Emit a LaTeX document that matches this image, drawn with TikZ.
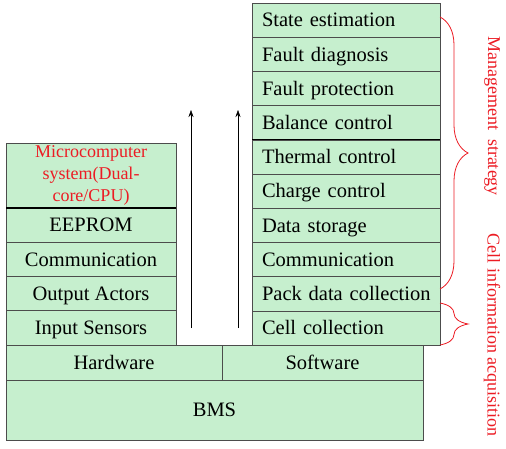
\documentclass[tikz,border=0pt]{standalone}
\usepackage{fontspec}
\setmainfont{Liberation Serif}
\usetikzlibrary{positioning,decorations.pathreplacing,arrows.meta}
\definecolor{bmsgreen}{RGB}{198,239,206}
\definecolor{bmsred}{RGB}{236,28,36}

\begin{document}
\begin{tikzpicture}[x=1pt,y=1pt,
 box/.style={draw=black!70, fill=bmsgreen, inner sep=0pt, outer sep=0pt,
   minimum height=34.2pt, font=\fontsize{20.5}{24}\selectfont},
 row/.style={box, text height=14.5pt, text depth=1pt},
 soft/.style={row, minimum width=188pt, text width=168pt, align=left},
 hard/.style={row, minimum width=170pt, align=center},
 brace/.style={draw=bmsred, thick, decorate, decoration={brace, amplitude=28pt}},
 side/.style={text=bmsred, rotate=-90, font=\fontsize{18}{20}\selectfont}]
 \useasboundingbox (0,0) rectangle (506,448);
 % software column
 \node [soft, anchor=north west] (state) at (252,445) {State estimation};
 \node [soft, below=0pt of state] (diag) {Fault diagnosis};
 \node [soft, below=0pt of diag] (prot) {Fault protection};
 \node [soft, below=0pt of prot] (bal) {Balance control};
 \node [soft, below=0pt of bal] (therm) {Thermal control};
 \node [soft, below=0pt of therm] (charge) {Charge control};
 \node [soft, below=0pt of charge] (store) {Data storage};
 \node [soft, below=0pt of store] (scomm) {Communication};
 \node [soft, below=0pt of scomm] (pack) {\mbox{Pack data collection}};
 \node [soft, below=0pt of pack] (cell) {Cell collection};
 \draw [thick] (bal.south west) -- (bal.south east);
 % hardware column
 \node [box, anchor=north west, minimum width=170pt, minimum height=65pt,
   text width=150pt, align=center, text=bmsred,
   font=\fontsize{18}{22}\selectfont] (micro) at (6,305)
   {Microcomputer\\system(Dual-\\core/CPU)};
 \node [hard, below=0pt of micro] (eeprom) {EEPROM};
 \node [hard, below=0pt of eeprom] (hcomm) {Communication};
 \node [hard, below=0pt of hcomm] (out) {Output Actors};
 \node [hard, below=0pt of out] (in) {Input Sensors};
 \draw [very thick] (micro.south west) -- (micro.south east);
 % base
 \node [row, anchor=north west, minimum width=216pt, minimum height=35pt] (hw) at (6,103) {Hardware};
 \node [row, right=0pt of hw, minimum width=201pt, minimum height=35pt] (sw) {Software};
 \node [row, below=0pt of hw.south west, anchor=north west, minimum width=417pt, minimum height=60pt] (bms) {BMS};
 % arrows
 \coordinate (tailA) at (191,120);
 \coordinate (headA) at (191,338);
 \coordinate (tailB) at (238,120);
 \coordinate (headB) at (238,338);
 \draw [-{Stealth[length=7pt,width=5pt]}] (tailA) -- (headA);
 \draw [-{Stealth[length=7pt,width=5pt]}] (tailB) -- (headB);
 % braces
 \coordinate (mgTop) at (440,431);
 \coordinate (mgBot) at (440,159);
 \coordinate (ciTop) at (440,145);
 \coordinate (ciBot) at (440,103);
 \draw [brace] (mgTop) -- (mgBot);
 \draw [brace] (ciTop) -- (ciBot);
 \node [side] (mgtext) at (492,332) {Management\ \ strategy};
 \node [side] (citext) at (492,113) {Cell information acquisition};
\end{tikzpicture}
\end{document}
